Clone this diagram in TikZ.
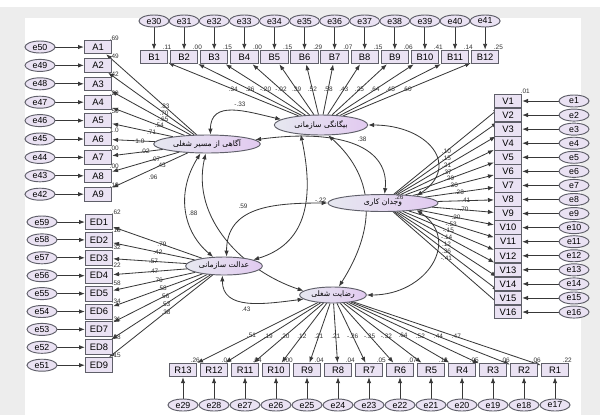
\documentclass[tikz,border=0pt]{standalone}
\usepackage{fontspec}
\setmainfont{Liberation Sans}
\newfontfamily\farsi[Script=Arabic]{DejaVu Sans}
\TeXXeTstate=1
\usetikzlibrary{shapes.geometric,arrows.meta}
\pgfdeclarelayer{bg}
\pgfsetlayers{bg,main}

\definecolor{lav}{RGB}{234,226,243}
\definecolor{edgegray}{RGB}{95,95,105}
\definecolor{latleft}{RGB}{230,232,240}
\definecolor{latright}{RGB}{226,202,240}

\tikzset{
  obs/.style={draw=edgegray, line width=0.8pt, fill=lav, minimum width=0.82cm,
    minimum height=0.41cm, inner sep=0pt, font=\fontsize{8}{9}\selectfont},
  err/.style={ellipse, draw=edgegray, line width=0.8pt, fill=lav, minimum width=0.9cm,
    minimum height=0.36cm, inner sep=0pt, font=\fontsize{7.5}{8}\selectfont},
  latent/.style={ellipse, draw=edgegray, line width=0.8pt, left color=latleft,
    right color=latright, inner sep=0pt, font={\farsi\fontsize{6.5}{7}\selectfont}},
  lbl/.style={font=\fontsize{5.5}{6}\selectfont, inner sep=0.5pt, text=black!80},
  load/.style={-{Latex[length=5pt,width=3.8pt]}, line width=0.7pt, draw=black!78},
  cov/.style={{Latex[length=5pt,width=3.8pt]}-{Latex[length=5pt,width=3.8pt]},
    line width=0.7pt, draw=black!78},
}

\begin{document}
\begin{tikzpicture}[x=0.03cm, y=-0.03cm]
  \useasboundingbox (0,0) rectangle (600,415);

  % latent variables
  \node[latent, minimum width=3.2cm, minimum height=0.54cm] (LA) at (207,144) {\beginR آگاهی از مسیر شغلی\endR};
  \node[latent, minimum width=2.8cm, minimum height=0.6cm] (LB) at (321,125) {\beginR بیگانگی سازمانی\endR};
  \node[latent, minimum width=3.3cm, minimum height=0.51cm] (LV) at (383,203) {\beginR وجدان کاری\endR};
  \node[latent, minimum width=2.3cm, minimum height=0.54cm] (LE) at (224,266) {\beginR عدالت سازمانی\endR};
  \node[latent, minimum width=2.0cm, minimum height=0.48cm] (LR) at (333,295) {\beginR رضایت شغلی\endR};

  \begin{pgfonlayer}{bg}
    \fill[black!7] (0,7) rectangle (600,415);
    \fill[white] (25,18) rectangle (581,415);

    % covariances
    \draw[cov] (LA.70) .. controls +(0,-35) and +(-35,-8) .. (LB.172);
    \draw[cov] (LA.5) .. controls +(90,-12) and +(5,-45) .. (LV.80);
    \draw[cov] (LA.235) .. controls +(-25,40) and +(-30,-25) .. (LE.140);
    \draw[cov] (LA.262) .. controls +(-15,65) and +(-60,-20) .. (LR.172);
    \draw[cov] (LB.east) .. controls +(60,0) and +(45,-30) .. (LV.12);
    \draw[cov] (LV.-12) .. controls +(45,30) and +(60,0) .. (LR.east);
    \draw[cov] (LB.-55) .. controls +(50,45) and +(35,-55) .. (LR.55);
    \draw[cov] (LB.205) .. controls +(15,70) and +(50,-15) .. (LE.12);
    \draw[cov] (LE.75) .. controls +(0,-50) and +(-55,0) .. (LV.west);
    \draw[cov] (LE.-100) .. controls +(0,35) and +(-40,5) .. (LR.188);
  \end{pgfonlayer}

  \node[lbl] at (240,104) {-.33};
  \node[lbl] at (362,139) {.38};
  \node[lbl] at (153,177) {.96};
  \node[lbl] at (193,213) {.88};
  \node[lbl] at (243,206) {.59};
  \node[lbl, anchor=east] at (327,200) {-.22};
  \node[lbl] at (246,309) {.43};
  \node[lbl] at (399,197) {.26};

  % top row
  \foreach \i/\r/\l [evaluate=\i as \x using 154+30.1*(\i-1),
      evaluate=\i as \e using int(\i+29)] in
      {1/.11/.34, 2/.00/.26, 3/.15/-.20, 4/.00/-.02, 5/.15/.39, 6/.29/.52,
       7/.07/.58, 8/.15/.43, 9/.06/.25, 10/.41/.64, 11/.14/.45, 12/.25/.60} {
    \node[err] (e\e) at (\x,21) {e\e};
    \node[obs] (B\i) at (\x,57) {B\i};
    \node[lbl, anchor=south west] at (\x+8,50) {\r};
    \begin{pgfonlayer}{bg}
      \draw[load] (e\e) -- (B\i);
      \draw[load] (LB) -- node[lbl, pos=.5] {\l} (B\i);
    \end{pgfonlayer}
  }

  % left column A
  \foreach \i/\r/\l [evaluate=\i as \y using 47+18.4*(\i-1),
      evaluate=\i as \e using int(51-\i)] in
      {1/.69/.83, 2/.49/.70, 3/.42/-.65, 4/.29/.54, 5/.50/.71,
       6/1.0/1.0, 7/.00/.02, 8/.00/.07, 9/.18/.43} {
    \node[err] (e\e) at (40,\y) {e\e};
    \node[obs] (A\i) at (98,\y) {A\i};
    \node[lbl, anchor=south west] at (109,\y-6) {\r};
    \begin{pgfonlayer}{bg}
      \draw[load] (e\e) -- (A\i);
      \draw[load] (LA) -- node[lbl, pos=.35] {\l} (A\i);
    \end{pgfonlayer}
  }

  % left column ED
  \foreach \i/\r/\l [evaluate=\i as \y using 222+17.9*(\i-1),
      evaluate=\i as \e using int(60-\i)] in
      {1/.62/.79, 2/.18/.42, 3/.32/.57, 4/.22/.47, 5/.58/.76,
       6/.34/.58, 7/.31/.56, 8/.28/.53, 9/.15/.38} {
    \node[err] (e\e) at (42,\y) {e\e};
    \node[obs, minimum height=0.45cm] (ED\i) at (99,\y) {ED\i};
    \node[lbl, anchor=south west] at (111,\y-7) {\r};
    \begin{pgfonlayer}{bg}
      \draw[load] (e\e) -- (ED\i);
      \draw[load] (LE) -- node[lbl, pos=.45] {\l} (ED\i);
    \end{pgfonlayer}
  }

  % right column V
  \foreach \i/\l [evaluate=\i as \y using 101+14.07*(\i-1)] in
      {1/.10, 2/.15, 3/.21, 4/.37, 5/.29, 6/.30, 7/.28, 8/.41,
       9/-.70, 10/.20, 11/-.53, 12/-.15, 13/-.14, 14/.12, 15/.36, 16/-.41} {
    \node[err] (e\i) at (574,\y) {e\i};
    \node[obs] (V\i) at (508,\y) {V\i};
    \begin{pgfonlayer}{bg}
      \draw[load] (e\i) -- (V\i);
      \draw[load] (LV) -- node[lbl, pos=.5] {\l} (V\i);
    \end{pgfonlayer}
  }
  \node[lbl, anchor=south west] at (520,94) {.01};

  % bottom row R
  \foreach \j/\r/\l [evaluate=\j as \x using 183+31*(13-\j),
      evaluate=\j as \e using int(\j+16)] in
      {13/.26/.51, 12/.04/.19, 11/.04/.20, 10/.00/.12, 9/.04/.21, 8/.04/.21,
       7/.05/-.26, 6/.07/-.35, 5/.12/-.32, 4/.05/.64, 3/.06/.52, 2/.06/.44, 1/.22/.47} {
    \node[err] (e\e) at (\x,405) {e\e};
    \node[obs] (R\j) at (\x,370) {R\j};
    \node[lbl, anchor=south west] at (\x+7,363) {\r};
    \begin{pgfonlayer}{bg}
      \draw[load] (e\e) -- (R\j);
      \draw[load] (LR) -- node[lbl, pos=.55] {\l} (R\j);
    \end{pgfonlayer}
  }
\end{tikzpicture}
\end{document}
